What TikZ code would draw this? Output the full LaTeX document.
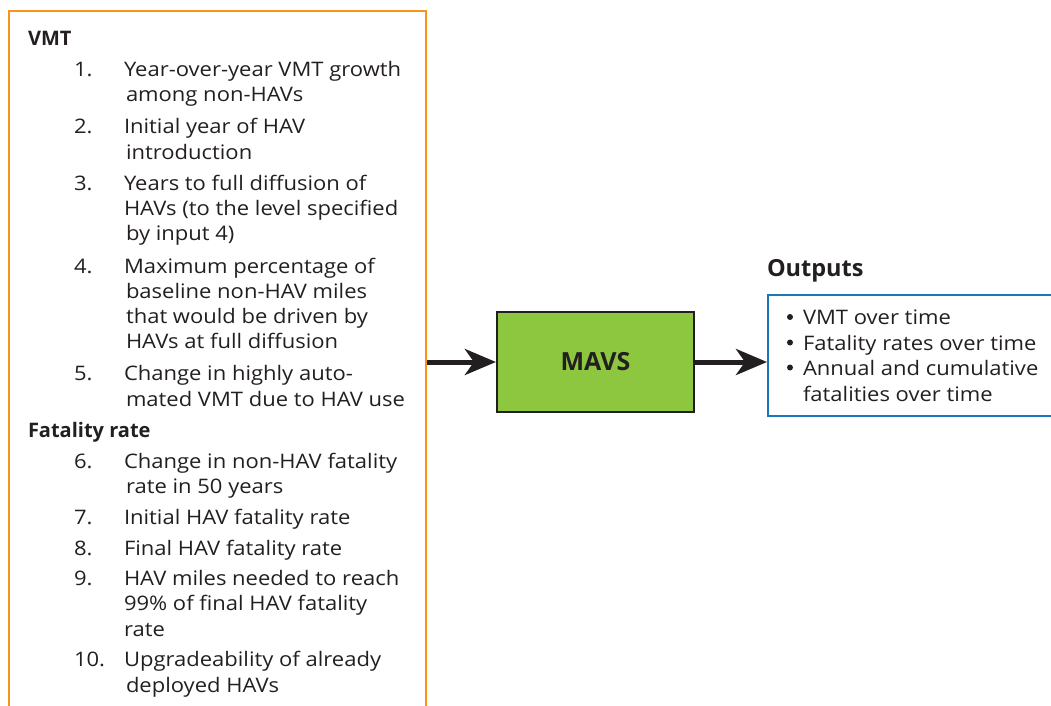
\documentclass[tikz,border=0pt]{standalone}
\usepackage{fontspec}
\setmainfont{Open Sans}[FakeStretch=1.1, BoldFeatures={FakeStretch=1.0}]
\usetikzlibrary{arrows.meta}
\definecolor{boxorange}{HTML}{F7941D}
\definecolor{mavsgreen}{HTML}{8DC63F}
\definecolor{outblue}{HTML}{1A75BB}
\definecolor{ink}{HTML}{231F20}
\tikzset{
  body/.style={anchor=base west, inner sep=0pt, outer sep=0pt, text=ink, font=\fontsize{20}{24}\selectfont},
  head/.style={body, font=\fontsize{20}{24}\selectfont\bfseries},
  dotmark/.style={circle, fill=ink, minimum size=6pt, inner sep=0pt, outer sep=0pt},
  bigarrow/.style={draw=ink, line width=5pt, -{Stealth[length=31pt, width=26pt, inset=9pt]}},
}
\begin{document}
\begin{tikzpicture}[x=1pt,y=-1pt]
\useasboundingbox (0,0) rectangle (1051,706);
\clip (0,0) rectangle (1051,706);
% input box
\node[draw=boxorange, line width=2pt, minimum width=417pt, minimum height=730pt, inner sep=0pt, anchor=north west] (inputs) at (8,10) {};
% MAVS box
\node[draw=ink, fill=mavsgreen, line width=2.2pt, minimum width=197pt, minimum height=100pt, inner sep=0pt,
      text=ink, font=\fontsize{25}{29}\selectfont\bfseries] (mavs) at (595.5,362) {MAVS};
% outputs box
\node[draw=outblue, line width=2.2pt, minimum width=320pt, minimum height=121pt, inner sep=0pt, anchor=north west] (outbox) at (767,294) {};
\node[body, font=\fontsize{23.5}{27}\selectfont\bfseries] (outlabel) at (767,276) {Outputs};
% section headings
\node[head] (hvmt) at (28,46) {VMT};
\node[head] (hfat) at (28,437) {Fatality rate};
% numbers
\foreach \y/\n [count=\i] in {77/1.,133/2.,190/3.,273/4.,380/5.,468/6.,524/7.,555/8.,585/9.,666/10.}
  \node[body] (N\i) at (74,\y) {\n};
% item lines
\foreach \x/\y/\t [count=\i] in {
  124/77/{Year-over-year VMT growth},
  126/102/{among non-HAVs},
  124/133/{Initial year of HAV},
  126/159/{introduction},
  124/190/{Years to full diffusion of},
  124/215/{HAVs (to the level specified},
  126/240/{by input 4)},
  124/273/{Maximum percentage of},
  126/298/{baseline non-HAV miles},
  126/323/{that would be driven by},
  126/348/{HAVs at full diffusion},
  124/380/{Change in highly auto-},
  126/406/{mated VMT due to HAV use},
  124/468/{Change in non-HAV fatality},
  126/493/{rate in 50 years},
  124/524/{Initial HAV fatality rate},
  124/555/{Final HAV fatality rate},
  124/585/{HAV miles needed to reach},
  124/610/{99\% of final HAV fatality},
  124/636/{rate},
  124/666/{Upgradeability of already},
  126/692/{deployed HAVs}}
  \node[body] (L\i) at (\x,\y) {\t};
% outputs
\node[dotmark] (B1) at (790,317) {};
\node[dotmark] (B2) at (790,342.5) {};
\node[dotmark] (B3) at (790,367.5) {};
\node[body] (O1) at (803,324) {VMT over time};
\node[body] (O2) at (803,350) {Fatality rates over time};
\node[body] (O3) at (803,375) {Annual and cumulative};
\node[body] (O4) at (803,401) {fatalities over time};
% arrows
\draw[bigarrow] (inputs.east |- mavs.west) -- (mavs.west);
\draw[bigarrow] (mavs.east) -- (outbox.west |- mavs.east);
\end{tikzpicture}
\end{document}
